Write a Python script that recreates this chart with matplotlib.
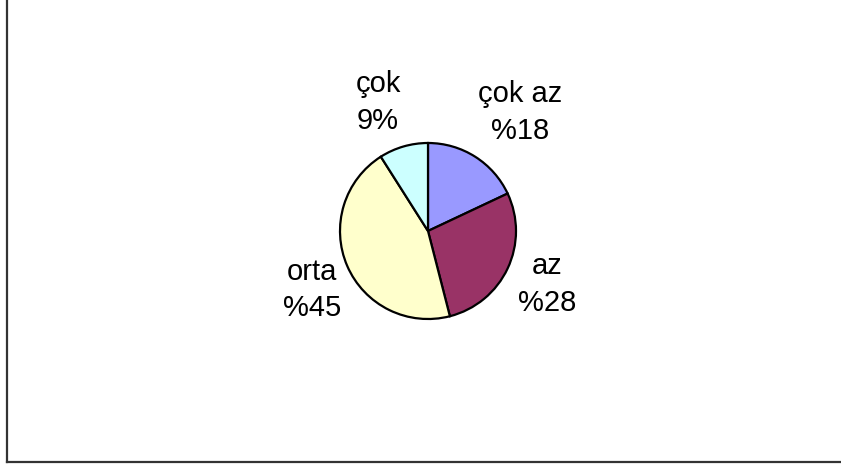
import matplotlib
matplotlib.use('Agg')
from matplotlib import pyplot as plt
from matplotlib.lines import Line2D

#### D A T A
categories = ['çok az', 'az', 'orta', 'çok']
values = [18, 28, 45, 9]
labels = ['çok az\n%18', 'az\n%28', 'orta\n%45', 'çok\n9%']
colors = ['#9999FF', '#993366', '#FFFFCC', '#CCFFFF']

# label spots (data coords, pie radius = 1)
label_pos = [(1.045, 1.35), (1.352, -0.61), (-1.318, -0.67), (-0.568, 1.46)]

plt.rcParams['font.family'] = ['Liberation Sans', 'DejaVu Sans']

W, H = 841, 465
fig = plt.figure(figsize=(W / 100, H / 100), dpi=100)

# pie centre at (428, 231) px from top-left, radius 88 px
cx, cy, r = 428, 231, 88
ax = fig.add_axes([(cx - r) / W, (H - cy - r) / H, 2 * r / W, 2 * r / H])
ax.pie(values, colors=colors, startangle=90, counterclock=False,
       wedgeprops={'edgecolor': 'black', 'linewidth': 1.6})
ax.set_xlim(-1, 1)
ax.set_ylim(-1, 1)
ax.set_aspect('equal')
ax.axis('off')

for txt, (x, y) in zip(labels, label_pos):
    ax.text(x, y, txt, ha='center', va='center', fontsize=21,
            linespacing=1.4, clip_on=False)

# frame pieces (left + bottom edge visible in the crop)
fig.add_artist(Line2D([6.5 / W, 6.5 / W], [(H - 462) / H, 1], color='#333333', lw=1.6))
fig.add_artist(Line2D([6.5 / W, 1], [(H - 462) / H, (H - 462) / H], color='#333333', lw=1.6))

plt.savefig('out.png', dpi=100)
